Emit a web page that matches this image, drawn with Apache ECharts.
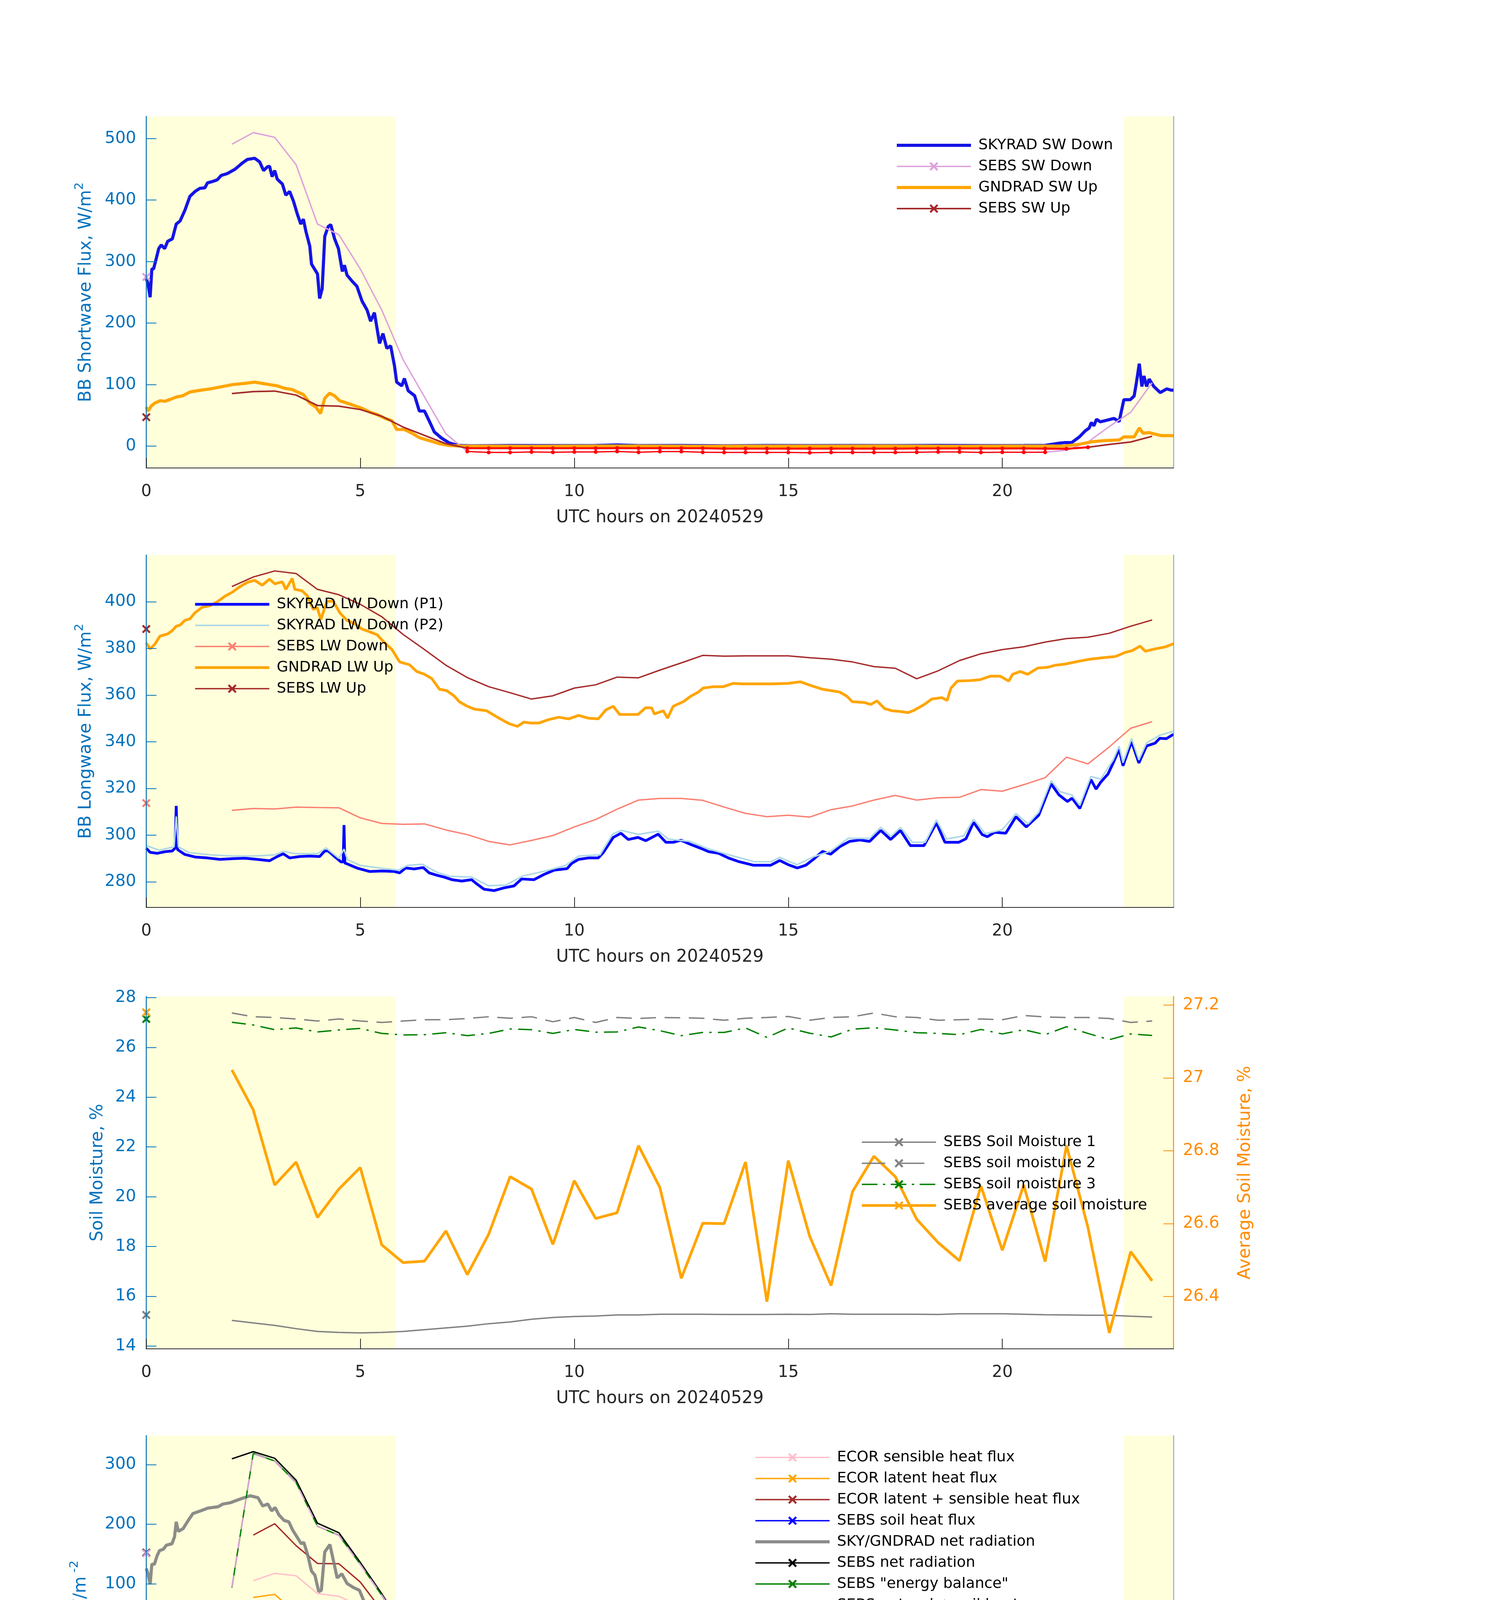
<!DOCTYPE html>
<html><head><meta charset="utf-8">
<script src="https://cdn.jsdelivr.net/npm/echarts@6/dist/echarts.min.js"></script>
<style>html,body{margin:0;padding:0;background:#fff}#c{width:3825px;height:4875px}</style>
</head><body><div id="c"></div>
<script>
// ---------------- DATA ----------------
const xTicks = [0, 5, 10, 15, 20];
const shadeSpans = [[0, 5.83], [22.83, 24]];
const sebsHours = [0,0.5,1,1.5,2,2.5,3,3.5,4,4.5,5,5.5,6,6.5,7,7.5,8,8.5,9,9.5,10,10.5,11,11.5,12,12.5,13,13.5,14,14.5,15,15.5,16,16.5,17,17.5,18,18.5,19,19.5,20,20.5,21,21.5,22,22.5,23,23.5];

// Panel 1: shortwave
const p1Ticks = [0, 100, 200, 300, 400, 500];
const skyradSwDown = [[0,272],[0.04,264],[0.09,242],[0.13,288],[0.17,288],[0.23,304],[0.29,321],[0.35,327],[0.43,321],[0.5,333],[0.61,337],[0.7,361],[0.79,366],[0.9,383],[1.02,406],[1.14,414],[1.25,419],[1.37,420],[1.43,428],[1.54,430],[1.66,433],[1.75,440],[1.89,443],[2.07,450],[2.24,460],[2.36,466],[2.53,468],[2.65,462],[2.74,448],[2.83,454],[2.88,455],[2.94,438],[3.0,448],[3.06,434],[3.18,426],[3.26,408],[3.35,414],[3.44,398],[3.53,377],[3.61,361],[3.67,369],[3.73,349],[3.82,325],[3.86,296],[3.93,288],[4.0,280],[4.05,240],[4.11,256],[4.17,341],[4.25,357],[4.31,360],[4.4,337],[4.49,321],[4.58,284],[4.63,294],[4.69,278],[4.81,268],[4.92,260],[5.04,236],[5.16,221],[5.24,203],[5.33,217],[5.45,167],[5.53,183],[5.62,159],[5.71,163],[5.8,130],[5.85,104],[5.97,98],[6.03,110],[6.12,90],[6.27,82],[6.38,57],[6.5,57],[6.61,41],[6.73,23],[6.9,13],[7.08,5],[7.31,1],[7.6,0.5],[8.5,1],[9.5,0.8],[10.5,1],[11,2],[11.5,0.8],[12.5,1],[13.5,0.6],[14.5,1],[15.5,0.8],[16.5,1],[17.5,0.8],[18.5,1.2],[19.5,0.8],[20.5,1],[21,1.2],[21.33,4.9],[21.45,5.7],[21.62,5.7],[21.8,15],[21.94,25],[22.03,29.5],[22.08,38.4],[22.14,33],[22.2,43.6],[22.29,39.5],[22.44,42],[22.61,45],[22.73,40],[22.84,75.5],[22.99,75.5],[23.08,81.5],[23.13,102],[23.2,134],[23.26,97],[23.31,114],[23.37,97],[23.43,109],[23.54,97],[23.69,87],[23.84,93],[23.95,91],[24,91]];
const gndradSwUp = [[0,63.6],[0.04,57],[0.12,65.6],[0.2,70],[0.32,73.7],[0.44,73],[0.55,75.7],[0.7,79.8],[0.85,81.8],[1.02,88],[1.25,90.7],[1.49,93],[1.72,96],[2.01,100],[2.3,102],[2.53,104],[2.71,102],[2.88,100],[3.06,98],[3.23,94],[3.41,92],[3.53,88],[3.67,84],[3.82,70],[3.96,63.6],[4.07,53],[4.17,77.7],[4.28,86],[4.4,81.8],[4.52,73.7],[4.69,70],[4.87,65.6],[5.04,61.5],[5.22,55.5],[5.39,51.4],[5.57,45.3],[5.74,41.3],[5.85,27],[6.03,27],[6.21,21],[6.38,13.8],[6.61,9],[6.85,4],[7.08,1],[7.36,0],[8,0],[9,-0.3],[10,0],[11,0.2],[12,0],[13,-0.2],[14,0],[15,0],[16,0],[17,0.2],[18,0],[19,-0.2],[20,0],[21,0],[21.45,0],[21.8,3],[22.08,7],[22.38,9],[22.73,10],[22.84,15],[23.08,15],[23.2,29.5],[23.29,21],[23.43,22],[23.54,20],[23.72,17],[24,17]];
const sebsSwDown = [275,null,null,null,490.7,509.7,502,457.5,361,343.7,288,221.5,140.5,80,20,-8.6,-10.3,-10.3,-9.5,-9.9,-9.5,-9.5,-8.6,-9.9,-8.8,-8.8,-9.9,-10.3,-10.3,-10.3,-10.3,-10.7,-10.3,-10.3,-10.3,-10.3,-9.9,-9.5,-9.5,-10.3,-9.9,-9.9,-9.9,-6.6,6.7,32,55,103];
const sebsSwUp = [47,null,null,null,85.4,88.7,89.5,83,66,65,59.5,48.6,31,17.4,4,-3.4,-3.4,-3.4,-3.4,-3.4,-3.4,-3.4,-3.2,-3.4,-3.4,-3.4,-3.4,-4.0,-4.0,-4.0,-4.0,-4.0,-4.0,-4.0,-4.0,-4.0,-3.8,-3.8,-3.8,-3.8,-3.8,-3.8,-4.0,-4.4,-1.8,2.7,6.7,16];
const swDownFlagHours = [7.5,8,8.5,9,9.5,10,10.5,11,11.5,12,12.5,13,13.5,14,14.5,15,15.5,16,16.5,17,17.5,18,18.5,19,19.5,20,20.5,21];
const swUpFlagHours = [7.5,8,8.5,9,9.5,10,10.5,11,11.5,12,12.5,13,13.5,14,14.5,15,15.5,16,16.5,17,17.5,18,18.5,19,19.5,20,20.5,21,21.5,22];

// Panel 2: longwave
const p2Ticks = [280, 300, 320, 340, 360, 380, 400];
const skyradLwDownP1 = [[0,294.4],[0.09,292.6],[0.26,292.2],[0.44,292.9],[0.61,293.2],[0.67,294.4],[0.7,312.5],[0.73,293.8],[0.9,291.7],[1.14,290.6],[1.43,290.2],[1.72,289.6],[2.01,289.9],[2.3,290.1],[2.59,289.6],[2.88,289],[3.06,290.8],[3.2,292],[3.35,290.2],[3.58,290.8],[3.82,291],[4.05,290.8],[4.17,293.2],[4.25,293.2],[4.4,290.8],[4.55,288.5],[4.6,288.5],[4.62,304.3],[4.64,288],[4.66,287.9],[4.92,285.9],[5.22,284.4],[5.51,284.6],[5.8,284.4],[5.92,283.8],[6.06,285.9],[6.26,285.5],[6.47,286.1],[6.61,283.8],[6.79,282.8],[6.96,282],[7.14,280.9],[7.37,280.3],[7.6,280.9],[7.72,279.1],[7.89,276.8],[8.13,276.2],[8.36,277.4],[8.59,278.2],[8.77,281.2],[9.06,280.9],[9.3,283.2],[9.53,285],[9.83,285.6],[9.94,287.9],[10.1,289.6],[10.33,290.2],[10.56,290.2],[10.68,292.6],[10.91,299],[11.09,300.8],[11.26,298.1],[11.49,299],[11.67,297.6],[11.96,300.4],[12.14,296.9],[12.31,296.9],[12.49,297.8],[12.72,296],[12.96,294.3],[13.14,292.9],[13.37,292.2],[13.6,290.2],[13.83,288.7],[14.18,287.1],[14.59,287.1],[14.8,289.1],[15.0,287.3],[15.21,285.9],[15.41,287.1],[15.58,289.5],[15.8,293],[15.99,291.8],[16.2,295],[16.43,297.3],[16.67,297.9],[16.9,297.3],[17.16,302],[17.39,298.1],[17.62,302],[17.85,295.5],[18.17,295.5],[18.46,305.2],[18.66,296.9],[18.98,296.9],[19.15,298.4],[19.33,305.5],[19.53,300.2],[19.65,299.3],[19.82,301.2],[20.08,300.8],[20.32,307.9],[20.56,303.5],[20.85,308.5],[21.14,322],[21.32,317.3],[21.52,314.4],[21.63,315.8],[21.81,311.4],[22.07,323.8],[22.19,319.7],[22.3,322.7],[22.47,326.2],[22.59,330.9],[22.73,336.8],[22.82,329.7],[23.02,340.1],[23.19,330.9],[23.37,338.2],[23.57,339.4],[23.68,341.5],[23.83,341.3],[24,343.2]];
const skyradLwDownP2 = [[0,295.5],[0.3,293.5],[0.65,295],[0.7,308],[0.75,295],[1.0,292.5],[1.5,291.5],[2.0,291],[2.5,291],[3.0,291.5],[3.2,293],[3.5,292],[4.0,292],[4.2,294.5],[4.5,290],[4.62,294],[4.7,289.5],[5.0,287],[5.5,285.8],[5.9,285],[6.1,287],[6.45,287.5],[6.8,284],[7.1,282.3],[7.6,282],[8.0,278.3],[8.4,278.6],[8.8,282.5],[9.3,284.5],[9.8,287],[10.1,291],[10.6,291.5],[10.9,300.5],[11.1,302],[11.5,300.3],[11.96,301.7],[12.2,298.3],[12.7,297.3],[13.1,294.3],[13.6,291.6],[14.2,288.6],[14.6,288.6],[14.8,290.4],[15.2,287.3],[15.6,290.8],[16.0,293.2],[16.4,298.6],[16.9,298.6],[17.16,303.3],[17.4,299.4],[17.62,303.3],[17.9,296.9],[18.2,296.9],[18.46,306.5],[18.7,298.3],[19.1,299.7],[19.33,306.8],[19.6,300.6],[20.0,302.3],[20.32,309.2],[20.6,304.8],[20.85,309.8],[21.14,323.3],[21.35,318.6],[21.63,317.1],[21.81,312.7],[22.07,325.1],[22.3,324],[22.59,332.2],[22.73,338.1],[22.82,331],[23.02,341.4],[23.19,332.2],[23.37,339.5],[23.68,342.8],[24,344.5]];
const gndradLwUp = [[0,382.4],[0.09,379.8],[0.2,381.8],[0.32,385.3],[0.5,386.2],[0.61,387.7],[0.7,389.5],[0.79,390],[0.9,392],[1.02,392.7],[1.14,395.3],[1.31,397.7],[1.49,398.3],[1.66,400],[1.84,402.4],[2.01,404.1],[2.19,406.5],[2.36,408.3],[2.53,409.2],[2.71,407.1],[2.88,409.7],[3.0,407.7],[3.18,408.5],[3.26,405.3],[3.41,410],[3.47,405.3],[3.64,404.7],[3.76,402.6],[3.9,396.7],[3.99,397.6],[4.08,392.4],[4.22,400.2],[4.37,400.2],[4.52,395.3],[4.69,392],[4.87,390.6],[5.04,388.3],[5.22,387.1],[5.39,385.9],[5.57,382.4],[5.74,379.5],[5.92,374.2],[6.15,373],[6.32,370.1],[6.5,368.9],[6.67,367.1],[6.85,362.5],[7.02,361.9],[7.2,359.5],[7.31,357.2],[7.48,355.4],[7.66,354],[7.95,353.3],[8.24,350.1],[8.47,347.8],[8.67,346.6],[8.82,348.4],[8.99,348],[9.17,348],[9.4,349.5],[9.64,350.5],[9.87,349.8],[10.1,351.3],[10.33,350.1],[10.56,349.8],[10.74,353.7],[10.91,355.2],[11.06,351.7],[11.26,351.7],[11.49,351.7],[11.67,354.6],[11.81,354.5],[11.87,351.9],[12.08,353.3],[12.18,350.1],[12.31,355.2],[12.55,357.2],[12.72,359.5],[12.9,361.3],[13.01,363],[13.25,363.6],[13.48,363.6],[13.71,365],[13.94,364.8],[14.29,364.8],[14.64,364.8],[14.99,365],[15.28,365.7],[15.51,364.2],[15.8,362.5],[16.2,361.3],[16.37,359.5],[16.49,357.2],[16.78,356.8],[16.93,356],[17.07,357.5],[17.25,354.2],[17.42,353.3],[17.6,353],[17.8,352.5],[17.95,353.6],[18.18,356],[18.35,358.3],[18.59,358.9],[18.71,357.7],[18.8,363],[18.95,366],[19.24,366.2],[19.48,366.6],[19.72,368.1],[19.95,368.1],[20.15,366],[20.24,368.9],[20.42,370.1],[20.59,368.9],[20.83,371.6],[21.06,371.9],[21.24,372.8],[21.47,373.3],[21.76,374.4],[22.05,375.4],[22.35,376],[22.64,376.5],[22.87,378.3],[23.04,379.1],[23.22,381],[23.34,378.8],[23.57,379.8],[23.8,380.6],[24,382]];
const sebsLwDown = [313.7,null,null,null,310.6,311.4,311.2,312,311.8,311.7,307.4,305,304.6,304.8,302.2,300.2,297.3,295.8,297.7,299.8,303.5,306.7,311.1,315,315.7,315.7,314.9,312,309.3,307.9,308.5,307.7,310.9,312.5,315,317,315,316,316.2,319.5,318.8,321.6,324.6,333.4,330.5,337.8,345.8,348.6];
const sebsLwUp = [388.3,null,null,null,406.5,410.6,413.2,412.1,405.3,403,398.9,393.6,386,379.5,372.8,367.5,363.6,361,358.3,359.7,363,364.4,367.7,367.4,370.7,373.8,377,376.7,376.8,376.8,376.8,376,375.4,374.2,372.2,371.5,367,370.4,374.8,377.7,379.5,380.7,382.7,384.2,384.8,386.5,389.5,392.2];

// Panel 3: soil moisture
const p3Ticks = [14, 16, 18, 20, 22, 24, 26, 28];
const p3RightTicks = [26.4, 26.6, 26.8, 27, 27.2];
const soilMoist1 = [15.25,null,null,null,15.03,14.93,14.83,14.7,14.59,14.55,14.53,14.55,14.59,14.66,14.73,14.8,14.9,14.97,15.08,15.15,15.19,15.21,15.25,15.25,15.28,15.28,15.28,15.27,15.27,15.27,15.28,15.27,15.3,15.28,15.28,15.28,15.28,15.27,15.3,15.3,15.3,15.28,15.26,15.25,15.24,15.24,15.2,15.17];
const soilMoist2 = [27.4,null,null,null,27.38,27.23,27.2,27.14,27.06,27.14,27.06,27.0,27.06,27.11,27.11,27.16,27.23,27.17,27.23,27.03,27.2,27.0,27.2,27.16,27.2,27.19,27.17,27.09,27.17,27.2,27.24,27.09,27.2,27.23,27.38,27.23,27.2,27.09,27.11,27.14,27.11,27.28,27.22,27.2,27.2,27.16,27.0,27.06];
const soilMoist3 = [27.14,null,null,null,27.01,26.9,26.71,26.78,26.62,26.7,26.76,26.56,26.5,26.51,26.59,26.47,26.56,26.74,26.71,26.56,26.72,26.61,26.62,26.82,26.67,26.47,26.6,26.6,26.78,26.4,26.78,26.57,26.42,26.73,26.79,26.7,26.59,26.56,26.51,26.72,26.54,26.71,26.51,26.83,26.56,26.31,26.54,26.48];
const soilMoistAvg = [27.18,null,null,null,27.022,26.912,26.706,26.769,26.617,26.695,26.754,26.542,26.493,26.497,26.58,26.46,26.571,26.729,26.695,26.543,26.718,26.614,26.63,26.814,26.699,26.45,26.601,26.6,26.769,26.386,26.773,26.565,26.43,26.688,26.785,26.729,26.612,26.548,26.498,26.703,26.527,26.706,26.496,26.814,26.59,26.3,26.523,26.443];

// Panel 4: surface energy balance
const p4Ticks = [-200, -100, 0, 100, 200, 300];
const ecorSensible = [13.8,null,null,null,null,105.5,117.9,113.8,84,79.4,63.3,39,2.3,-16,-36.7,-37,-41.3,-45.9,-45,-38.1,-40.8,-39.9,-48.2,-35.3,-45.9,-31.7,-83.9,-60.1,-73.4,-74.3,-73.4,-73.4,-59.6,-45,-41.3,-41.3,-55,-56.4,-38.1,-61.9,-64.2,-41.3,-70.2,-65.1,-67.4,-61.9,-56,-34.4];
const ecorLatent = [50.5,null,null,null,null,77.5,82.6,51.4,51.4,53.7,41.3,24.3,17,9.2,3.2,0,-3.7,-3.7,-6.9,-10.1,-10.6,-12.8,1.8,-7.8,0.9,-71.1,34.4,-5,23.9,23.9,10.1,9.2,3.2,-4.6,-1.4,3.7,-9.2,6,-28.9,7.8,16,-10.6,20.6,17,21.6,29.8,28.4,26.1];
const ecorLatSens = [64.2,null,null,null,null,182,200.9,164.2,134.4,133.9,103.2,56,22.9,-12.4,-35.8,-32.1,-45.9,-50.5,-51.8,-49.1,-51.8,-52.3,-48.2,-43.6,-45.9,-103.2,-50.5,-65.6,-55,-49.1,-61,-66.5,-59.6,-50.5,-43.6,-39,-66.5,-57.3,-64.2,-55,-51.4,-51.4,-50.5,-49.1,-45.9,-30.7,-28,-7.8];
const sebsSoilHeat = [-0.9,null,null,null,-214,-3.2,-5,-5,-5,-4.6,-3.7,-2.3,-0.9,0.9,2.3,2.3,4.6,6,6.4,7.3,6.9,6.9,6.4,6,5,4.6,4.1,3.7,3.2,3.2,3.2,3.2,3.2,3.2,3.7,3.7,4.1,3.7,3.2,2.8,2.3,1.8,1.4,0.9,0.9,0.5,0,-0.9];
const skyGndNetRad = [[0,126],[0.04,117],[0.09,99.5],[0.13,133],[0.19,133],[0.25,146.8],[0.31,156],[0.4,158.3],[0.47,165.1],[0.6,167.4],[0.66,178.9],[0.7,204.1],[0.75,188.1],[0.86,192.7],[0.98,206.4],[1.09,217.9],[1.27,222.5],[1.44,227.1],[1.68,229.4],[1.79,233.9],[1.97,236.2],[2.14,240.8],[2.29,244.5],[2.43,247.7],[2.61,244.5],[2.72,230.7],[2.84,233.9],[2.93,222.5],[3.01,228],[3.1,215.6],[3.22,206.4],[3.33,204.1],[3.42,190.4],[3.54,176.6],[3.62,167.4],[3.68,169.7],[3.77,149.1],[3.86,121.6],[3.94,114.7],[4.03,87.2],[4.09,89.4],[4.17,153.7],[4.29,166],[4.37,139.9],[4.46,110.1],[4.57,117],[4.69,100.9],[4.84,94],[4.98,89.4],[5.1,68.8],[5.22,64.2],[5.33,59.6],[5.4,48.2],[5.51,27.5],[5.63,25.2],[5.72,22.9],[5.8,-11.5],[5.92,-16.1],[6.03,-9.2],[6.2,-20.6],[6.31,-39],[6.43,-39],[6.61,-56.4],[6.78,-64.2],[6.96,-73.4],[7.08,-75.7],[7.37,-73.4],[7.66,-68.8],[7.95,-73.4],[8.24,-73.4],[8.53,-67.4],[8.99,-65.6],[9.52,-64.2],[9.99,-62.8],[10.56,-59.6],[11.03,-50.5],[11.26,-53.7],[11.49,-51.8],[11.87,-50.5],[12.1,-56.4],[12.5,-59.6],[13,-68.8],[13.5,-74.8],[14,-77],[14.5,-78],[15,-78],[15.28,-79.4],[15.51,-73.4],[15.8,-68.8],[16.2,-64.2],[16.5,-59.6],[17,-57.3],[17.5,-55],[17.62,-50.5],[17.95,-57.3],[18.42,-53.7],[18.66,-61.9],[18.95,-67.4],[19.35,-64.2],[19.7,-67.4],[20.29,-64.2],[20.75,-65.6],[21.04,-56.4],[21.15,-50.5],[21.44,-55],[21.73,-50.5],[21.94,-36.7],[22.05,-24.3],[22.26,-25.2],[22.5,-16.1],[22.67,-9.2],[22.79,4.6],[22.91,16],[23.05,11.5],[23.2,56.4],[23.29,32.1],[23.37,49.1],[23.46,43.6],[23.58,39],[23.7,32.1],[23.84,36.7],[24,37.6]];
const sebsNetRad = [152.3,null,null,null,309.6,321.6,310.6,273.9,201.8,185.8,136.2,83.9,27.5,-13.8,-55,-72.5,-72,-71.1,-67.4,-65.6,-64.2,-63.3,-61.9,-57.8,-59.6,-62.8,-67.4,-70.2,-74.3,-74.8,-74.3,-74.3,-68.8,-64.2,-61.9,-59.6,-58.3,-59.6,-62.8,-62.8,-66.5,-63.3,-62.8,-55,-46.8,-18.3,4.6,44.5];
const sebsEnergyBal = [null,null,null,null,94,318.8,306,270,196.8,181.6,133,81.2,25.2,-15.6,-56.4,-68.8,-67.4,-65.6,-59.6,-58.3,-58.3,-56.4,-55,-52.8,-54.1,-59.6,-64.2,-67.4,-71.1,-72,-71.1,-71.1,-66.5,-61,-58.3,-56.4,-55,-55.9,-61,-61.9,-64.2,-62.8,-61.9,-52.8,-47.2,-18.3,4.6,43.6];
const sebsNetRadSoil = [151.4,null,null,null,95,318,305.5,269,197,181,132.5,81.6,26.6,-12.9,-52.7,-70.2,-67.4,-65.1,-61,-58.3,-57.3,-56.4,-55.5,-51.8,-54.6,-58.2,-63.3,-66.5,-71.1,-71.6,-71.1,-71.1,-65.6,-61,-58.2,-55.9,-54.2,-55.9,-59.6,-60,-64.2,-61.5,-61.4,-54.1,-45.9,-17.8,4.6,43.6];
const soilHeatFlagHours = [2];
const latentFlagHours = [11, 12.5, 13.5, 16.5, 19, 20.5];
const latSensFlagHours = [12.5, 16.5, 20.5];

// ---------------- STYLE / BUILD ----------------
const F = 'DejaVu Sans';
const AXB = '#0072BD', AXO = '#FF8C00', DARK = '#262626', SHADE = '#FFFFDB', EDGE = '#7f9fb0';
const XMARK = 'path://M0,1.6L1.6,0L5,3.4L8.4,0L10,1.6L6.6,5L10,8.4L8.4,10L5,6.6L1.6,10L0,8.4L3.4,5Z';
const GRIDS = [
  {left: 374.5, top: 298, width: 2630, height: 900},
  {left: 374.5, top: 1421, width: 2630, height: 902},
  {left: 374.5, top: 2551, width: 2630, height: 902},
  {left: 374.5, top: 3675, width: 2630, height: 901}
];

function markedData(vals) {
  return vals.map((v, i) => i === 0 ? {value: [sebsHours[i], v]} : {value: [sebsHours[i], v], symbol: 'none'});
}
function pick(vals, flagHours) {
  return sebsHours.map((h, i) => [h, flagHours.indexOf(h) >= 0 ? vals[i] : null]);
}
function line(name, data, gi, yi, color, width, o) {
  o = o || {};
  return {
    name: name, type: 'line', xAxisIndex: gi, yAxisIndex: yi, data: data,
    symbol: o.marker ? XMARK : 'none', symbolSize: o.msize || 22, showSymbol: true,
    lineStyle: {color: color, width: width, type: o.dash || 'solid', opacity: o.opacity == null ? 1 : o.opacity},
    itemStyle: {color: color, opacity: 1}, animation: false, silent: true, connectNulls: false, clip: true, z: o.z || 3
  };
}
function flagLine(name, data, gi, yi, width) {
  return {name: name, type: 'line', xAxisIndex: gi, yAxisIndex: yi, data: data, symbol: 'circle', symbolSize: 10,
    showSymbol: true, lineStyle: {color: '#FF0000', width: width}, itemStyle: {color: '#FF0000'},
    animation: false, silent: true, connectNulls: false, z: 4};
}
function flagDots(name, vals, hours, gi, yi) {
  return {name: name, type: 'scatter', xAxisIndex: gi, yAxisIndex: yi,
    data: sebsHours.map((h, i) => hours.indexOf(h) >= 0 ? [h, vals[i]] : null).filter(d => d),
    symbol: 'circle', symbolSize: 8, itemStyle: {color: '#FF0000'}, animation: false, silent: true, z: 6};
}
function shade(gi, yi) {
  return {type: 'custom', name: 'shade' + gi, xAxisIndex: gi, yAxisIndex: yi, silent: true, animation: false, z: 1,
    data: shadeSpans,
    renderItem: function (params, api) {
      const cs = params.coordSys;
      const x0 = api.coord([api.value(0), api.value(1)])[0];
      const x1 = api.coord([api.value(1), api.value(1)])[0];
      return {type: 'rect', shape: {x: x0, y: cs.y, width: x1 - x0, height: cs.height}, style: {fill: SHADE}};
    }};
}
function xAx(gi) {
  return {type: 'value', gridIndex: gi, min: 0, max: 24, z: 10,
    name: 'UTC hours on 20240529', nameLocation: 'middle', nameGap: 106,
    nameTextStyle: {fontSize: 44, color: DARK, fontFamily: F},
    axisLine: {onZero: false, lineStyle: {color: DARK, width: 2}},
    axisTick: {inside: true, length: 26, customValues: xTicks, lineStyle: {color: DARK, width: 2}},
    axisLabel: {customValues: xTicks, fontSize: 42, color: DARK, margin: 40, fontFamily: F},
    splitLine: {show: false}};
}
function nameRich(color) {
  return {fontSize: 44, color: color, fontFamily: F,
    rich: {n: {fontSize: 44, color: color, fontFamily: F, padding: [10, 0, 0, 0], verticalAlign: 'bottom'},
           s: {fontSize: 31, color: color, fontFamily: F, verticalAlign: 'top'}}};
}
function leftY(gi, min, max, ticks, name, gap) {
  return {type: 'value', gridIndex: gi, position: 'left', min: min, max: max, z: 10,
    name: name, nameLocation: 'middle', nameRotate: 90, nameGap: gap, nameTextStyle: nameRich(AXB),
    axisLine: {show: true, onZero: false, lineStyle: {color: AXB, width: 2.5}},
    axisTick: {show: true, inside: true, length: 26, customValues: ticks, lineStyle: {color: AXB, width: 2}},
    axisLabel: {customValues: ticks, fontSize: 42, color: AXB, margin: 26, fontFamily: F},
    splitLine: {show: false}};
}
function edgeY(gi, min, max) {
  return {type: 'value', gridIndex: gi, position: 'right', min: min, max: max, z: 10,
    axisLine: {show: true, onZero: false, lineStyle: {color: EDGE, width: 2}},
    axisTick: {show: false}, axisLabel: {show: false}, splitLine: {show: false}};
}
// legend entries: [name, line width, has marker, dash]
function legend(items, left, top) {
  return {
    data: items.map(it => {
      const d = {name: it[0], lineStyle: {width: it[1]}};
      if (it[3]) d.lineStyle.type = it[3];
      if (!it[2]) d.itemStyle = {opacity: 0};
      return d;
    }),
    orient: 'vertical', left: left, top: top, itemWidth: 190, itemHeight: 28, itemGap: 12,
    selectedMode: false, backgroundColor: 'transparent',
    textStyle: {fontSize: 38, fontFamily: F, color: '#000', lineHeight: 42, padding: [0, 0, 0, 14]}};
}

const P1 = {min: -35.5, max: 536}, P2 = {min: 269, max: 420}, P3 = {min: 13.89, max: 28.044}, P3R = {min: 26.2564, max: 27.2234}, P4 = {min: -240.8, max: 348.6};

const option = {
  backgroundColor: '#ffffff',
  animation: false,
  grid: GRIDS,
  xAxis: [xAx(0), xAx(1), xAx(2), xAx(3)],
  yAxis: [
    leftY(0, P1.min, P1.max, p1Ticks, '{n|BB Shortwave Flux, W/m}{s|2}', 132),
    edgeY(0, P1.min, P1.max),
    leftY(1, P2.min, P2.max, p2Ticks, '{n|BB Longwave Flux, W/m}{s|2}', 132),
    edgeY(1, P2.min, P2.max),
    leftY(2, P3.min, P3.max, p3Ticks, '{n|Soil Moisture, %}', 102),
    {type: 'value', gridIndex: 2, position: 'right', min: P3R.min, max: P3R.max, z: 10,
      name: '{n|Average Soil Moisture, %}', nameLocation: 'middle', nameRotate: 90, nameGap: 152, nameTextStyle: nameRich(AXO),
      axisLine: {show: true, onZero: false, lineStyle: {color: AXO, width: 2.5}},
      axisTick: {show: true, inside: true, length: 26, customValues: p3RightTicks, lineStyle: {color: AXO, width: 2}},
      axisLabel: {customValues: p3RightTicks, fontSize: 42, color: AXO, margin: 24, fontFamily: F},
      splitLine: {show: false}},
    leftY(3, P4.min, P4.max, p4Ticks, '{n|Flux, W/m}{s| -2}', 145),
    edgeY(3, P4.min, P4.max)
  ],
  legend: [
    legend([['SKYRAD SW Down', 8, false], ['SEBS SW Down', 3.5, true], ['GNDRAD SW Up', 8, false], ['SEBS SW Up', 4, true]], 2287, 346),
    legend([['SKYRAD LW Down (P1)', 7, false], ['SKYRAD LW Down (P2)', 4, false], ['SEBS LW Down', 3.5, true], ['GNDRAD LW Up', 7, false], ['SEBS LW Up', 3.5, true]], 491, 1521),
    legend([['SEBS Soil Moisture 1', 3.5, true], ['SEBS soil moisture 2', 3.5, true, [60, 40]], ['SEBS soil moisture 3', 3.5, true, [40, 14, 6, 14]], ['SEBS average soil moisture', 7, true]], 2198, 2898),
    legend([['ECOR sensible heat flux', 3.5, true], ['ECOR latent heat flux', 3.5, true], ['ECOR latent + sensible heat flux', 3.5, true], ['SEBS soil heat flux', 3.5, true],
      ['SKY/GNDRAD net radiation', 8, false], ['SEBS net radiation', 3.5, true], ['SEBS "energy balance"', 3.5, true], ['SEBS net rad + soil heat', 3.5, true, [60, 40]]], 1925, 3705)
  ],
  series: [
    shade(0, 0), shade(1, 2), shade(2, 4), shade(3, 6),
    // Panel 1
    line('SKYRAD SW Down', skyradSwDown, 0, 0, '#1414E6', 8),
    line('SEBS SW Down', markedData(sebsSwDown), 0, 0, '#DDA0DD', 3.5, {marker: true}),
    line('GNDRAD SW Up', gndradSwUp, 0, 0, '#FFA500', 8),
    line('SEBS SW Up', markedData(sebsSwUp), 0, 0, '#A52A2A', 4, {marker: true}),
    flagLine('flagSWDown', pick(sebsSwDown, swDownFlagHours), 0, 0, 3),
    flagLine('flagSWUp', pick(sebsSwUp, swUpFlagHours), 0, 0, 5),
    // Panel 2
    line('SKYRAD LW Down (P1)', skyradLwDownP1, 1, 2, '#0000FF', 7),
    line('SKYRAD LW Down (P2)', skyradLwDownP2, 1, 2, '#ADD8E6', 4),
    line('SEBS LW Down', markedData(sebsLwDown), 1, 2, '#FA8072', 3.5, {marker: true}),
    line('GNDRAD LW Up', gndradLwUp, 1, 2, '#FFA500', 7),
    line('SEBS LW Up', markedData(sebsLwUp), 1, 2, '#A52A2A', 3.5, {marker: true}),
    // Panel 3
    line('SEBS Soil Moisture 1', markedData(soilMoist1), 2, 4, '#808080', 3.5, {marker: true}),
    line('SEBS soil moisture 2', markedData(soilMoist2), 2, 4, '#808080', 3.5, {marker: true, dash: [40, 22]}),
    line('SEBS soil moisture 3', markedData(soilMoist3), 2, 4, '#008000', 3.5, {marker: true, dash: [36, 16, 6, 16]}),
    line('SEBS average soil moisture', markedData(soilMoistAvg), 2, 5, '#FFA500', 7, {marker: true}),
    // Panel 4
    line('ECOR sensible heat flux', markedData(ecorSensible), 3, 6, '#FFC0CB', 3.5, {marker: true}),
    line('ECOR latent heat flux', markedData(ecorLatent), 3, 6, '#FFA500', 3.5, {marker: true}),
    line('ECOR latent + sensible heat flux', markedData(ecorLatSens), 3, 6, '#A52A2A', 3.5, {marker: true}),
    line('SEBS soil heat flux', markedData(sebsSoilHeat), 3, 6, '#0000FF', 3.5, {marker: true}),
    line('SKY/GNDRAD net radiation', skyGndNetRad, 3, 6, '#808080', 8, {opacity: 0.9}),
    line('SEBS net radiation', markedData(sebsNetRad), 3, 6, '#000000', 3.5, {marker: true}),
    line('SEBS "energy balance"', markedData(sebsEnergyBal), 3, 6, '#008000', 3.5, {marker: true}),
    line('SEBS net rad + soil heat', markedData(sebsNetRadSoil), 3, 6, '#DDA0DD', 3.5, {marker: true, dash: [30, 20]}),
    flagDots('flagSoil', sebsSoilHeat, soilHeatFlagHours, 3, 6),
    flagDots('flagLatent', ecorLatent, latentFlagHours, 3, 6),
    flagDots('flagLatSens', ecorLatSens, latSensFlagHours, 3, 6)
  ]
};

const chart = echarts.init(document.getElementById('c'), null, {renderer: 'canvas', width: 3825, height: 4875});
chart.setOption(option);
</script></body></html>
